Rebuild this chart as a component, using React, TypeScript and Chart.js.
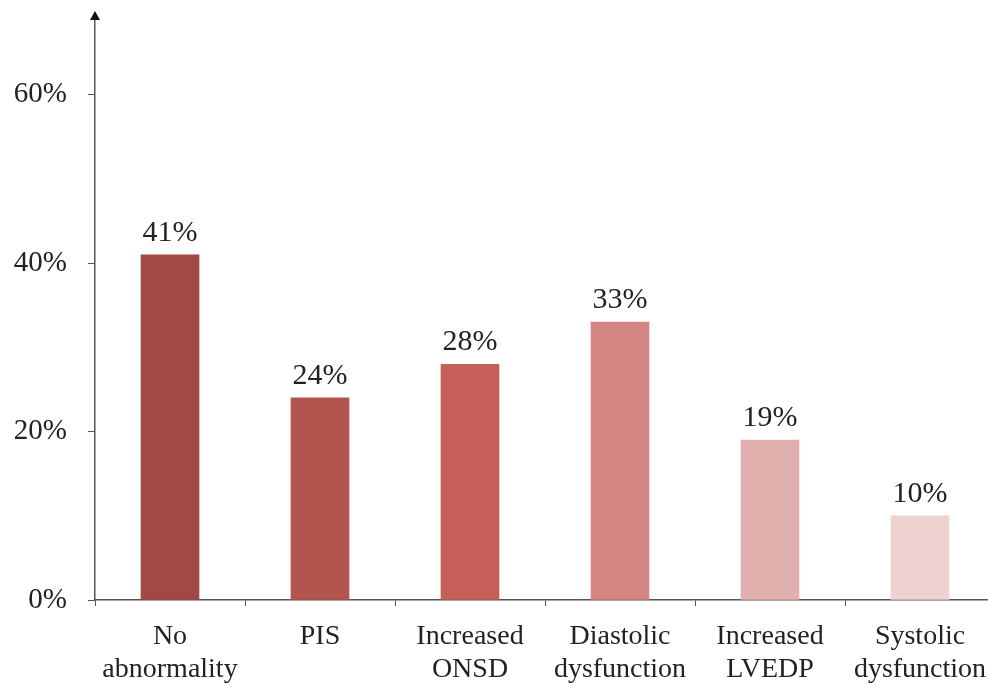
import React, { useEffect, useRef } from "react";
import { Chart, registerables } from "chart.js";

Chart.register(...registerables);

const categories: string[][] = [
  ["No", "abnormality"],
  ["PIS"],
  ["Increased", "ONSD"],
  ["Diastolic", "dysfunction"],
  ["Increased", "LVEDP"],
  ["Systolic", "dysfunction"],
];
const percentages: number[] = [41, 24, 28, 33, 19, 10];
const barColors: string[] = ["#A14A45", "#B4544F", "#C65F58", "#D58683", "#E1B0AE", "#EDD0D0"];
const yTickValues: number[] = [0, 20, 40, 60];

const AXIS_COLOR = "#555555";
const FONT_FAMILY = "'Liberation Serif', 'Times New Roman', serif";
const TEXT_COLOR = "#222222";
const CATEGORY_FONT_SIZE = 28;
const VALUE_FONT_SIZE = 30;
const PERCENT_TICK_FONT_SIZE = 29;

// Value labels above each bar
const valueLabels = {
  id: "valueLabels",
  afterDatasetsDraw(chart: any) {
    const ctx = chart.ctx;
    const meta = chart.getDatasetMeta(0);
    ctx.save();
    ctx.font = `${VALUE_FONT_SIZE}px ${FONT_FAMILY}`;
    ctx.fillStyle = TEXT_COLOR;
    ctx.textAlign = "center";
    ctx.textBaseline = "alphabetic";
    meta.data.forEach((bar: any, i: number) => {
      ctx.fillText(`${percentages[i]}%`, bar.x, bar.y - 14);
    });
    ctx.restore();
  },
};

// Arrow head at the top of the value axis
const axisArrow = {
  id: "axisArrow",
  afterDraw(chart: any) {
    const { ctx, chartArea } = chart;
    const x = chartArea.left;
    const y = chartArea.top;
    ctx.save();
    ctx.fillStyle = "#111";
    ctx.beginPath();
    ctx.moveTo(x, y - 8);
    ctx.lineTo(x - 5, y + 1);
    ctx.lineTo(x + 5, y + 1);
    ctx.closePath();
    ctx.fill();
    ctx.restore();
  },
};

export default function App() {
  const canvasRef = useRef<HTMLCanvasElement | null>(null);

  useEffect(() => {
    if (!canvasRef.current) return;
    const chart = new Chart(canvasRef.current, {
      type: "bar",
      data: {
        labels: categories,
        datasets: [
          {
            data: percentages,
            backgroundColor: barColors,
            borderWidth: 0,
            barThickness: 58,
          },
        ],
      },
      options: {
        responsive: false,
        animation: false,
        devicePixelRatio: 1,
        layout: { padding: { top: 19, right: 5, left: 0, bottom: 0 } },
        plugins: { legend: { display: false }, tooltip: { enabled: false } },
        scales: {
          x: {
            grid: {
              display: true,
              drawOnChartArea: false,
              drawTicks: true,
              tickLength: 6,
              color: AXIS_COLOR,
              offset: true,
            },
            border: { display: true, color: AXIS_COLOR, width: 1.5 },
            ticks: {
              color: TEXT_COLOR,
              padding: 15,
              maxRotation: 0,
              autoSkip: false,
              font: { family: FONT_FAMILY, size: CATEGORY_FONT_SIZE, lineHeight: 1.15 },
            },
            afterFit(scale: any) {
              scale.height = 88;
              scale.paddingLeft = 0;
              scale.paddingRight = 0;
            },
          },
          y: {
            min: 0,
            max: 69,
            grid: {
              display: true,
              drawOnChartArea: false,
              drawTicks: true,
              tickLength: 7,
              color: AXIS_COLOR,
            },
            border: { display: true, color: AXIS_COLOR, width: 1.5 },
            ticks: {
              color: TEXT_COLOR,
              padding: 21,
              font: { family: FONT_FAMILY, size: PERCENT_TICK_FONT_SIZE },
              callback: (v: any) => `${v}%`,
            },
            afterBuildTicks(scale: any) {
              scale.ticks = yTickValues.map((value) => ({ value }));
            },
            afterFit(scale: any) {
              scale.width = 95;
              scale.paddingTop = 0;
              scale.paddingBottom = 0;
            },
          },
        },
      },
      plugins: [valueLabels, axisArrow],
    });
    return () => chart.destroy();
  }, []);

  return (
    <div
      style={{
        position: "fixed",
        left: 0,
        top: 0,
        width: 988,
        height: 688,
        overflow: "hidden",
        background: "#fff",
      }}
    >
      <canvas ref={canvasRef} width={1000} height={688} style={{ display: "block" }} />
    </div>
  );
}
